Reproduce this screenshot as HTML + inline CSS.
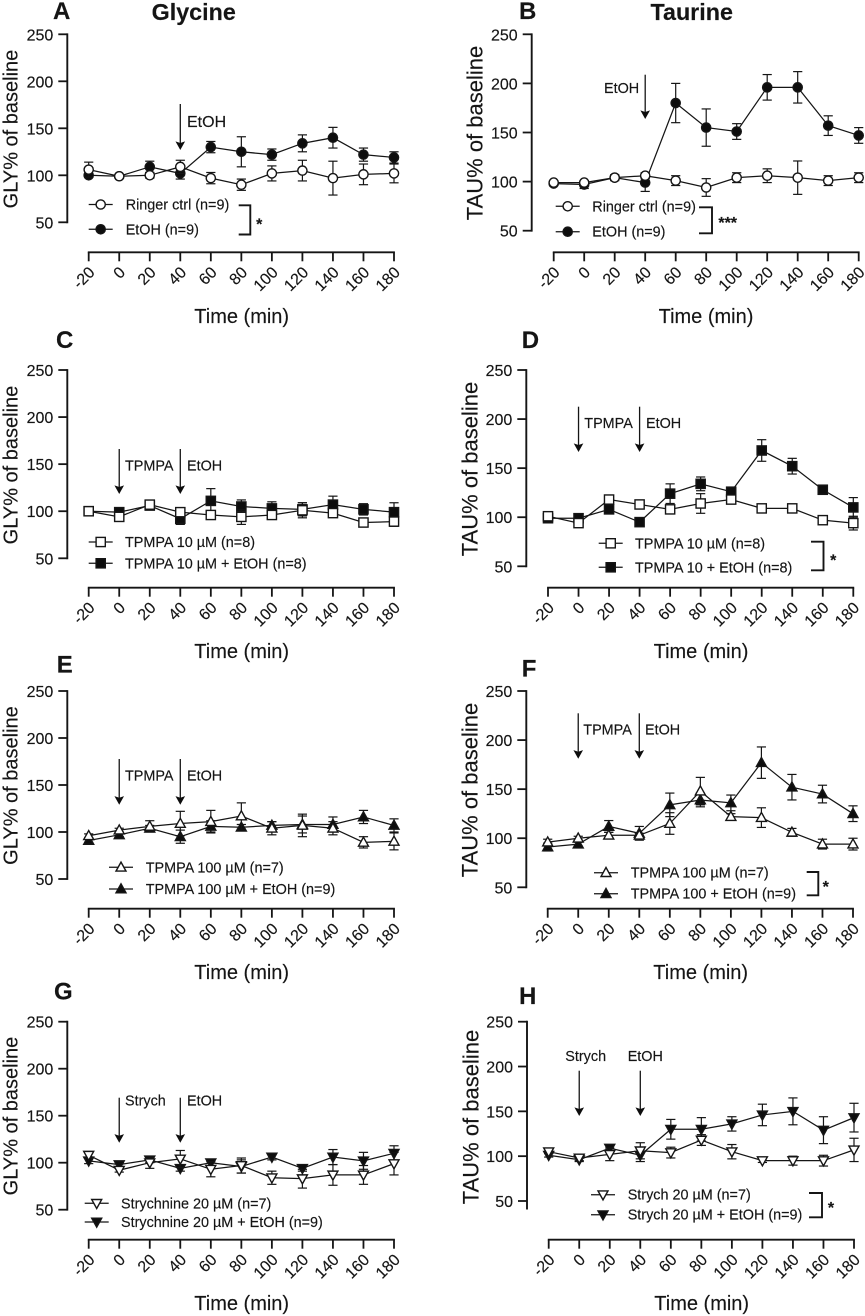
<!DOCTYPE html>
<html lang="en">
<head>
<meta charset="utf-8">
<title>Glycine and Taurine time courses</title>
<style>
html,body{margin:0;padding:0;background:#fff;}
svg{display:block;font-family:"Liberation Sans",Arial,sans-serif;fill:#151515;}
svg text{stroke:#151515;stroke-width:0.15px;}
</style>
</head>
<body>
<svg id="figure" xmlns="http://www.w3.org/2000/svg" width="865" height="1316" viewBox="0 0 865 1316"></svg>
<script>
const timePoints = [-20, 0, 20, 40, 60, 80, 100, 120, 140, 160, 180];
const xTickLabels = ["-20", "0", "20", "40", "60", "80", "100", "120", "140", "160", "180"];
const yTicks = [50, 100, 150, 200, 250];

const aCtrl = [106, 99, 100, 109, 97, 90, 102, 105, 97, 101, 102];
const aCtrlErr = [8, 2, 3, 7, 6, 6, 8, 11, 18, 11, 10];
const aEtoh = [100, 99, 109, 102, 130, 125, 122, 134, 140, 122, 119];
const aEtohErr = [1, 2, 6, 6, 6, 16, 6, 9, 11, 7, 6];

const bCtrl = [99, 99, 104, 106, 101, 94, 104, 106, 104, 101, 104];
const bCtrlErr = [2, 2, 3, 3, 5, 9, 5, 7, 17, 5, 5];
const bEtoh = [98, 97, 104, 99, 180, 155, 151, 196, 196, 157, 147];
const bEtohErr = [2, 4, 2, 9, 20, 19, 8, 13, 16, 10, 8];

const cCtrl = [100, 94, 107, 99, 96, 94, 96, 101, 98, 88, 89];
const cCtrlErr = [1, 2, 2, 3, 4, 8, 3, 8, 3, 3, 5];
const cEtoh = [100, 99, 106, 92, 111, 105, 103, 102, 107, 102, 99];
const cEtohErr = [1, 2, 2, 6, 13, 7, 7, 7, 9, 6, 10];

const dCtrl = [101, 94, 118, 113, 108, 114, 118, 109, 109, 97, 94];
const dCtrlErr = [1, 2, 3, 4, 4, 10, 3, 2, 1, 2, 7];
const dEtoh = [99, 99, 108, 95, 124, 134, 126, 168, 152, 128, 110];
const dEtohErr = [1, 2, 4, 2, 10, 7, 3, 11, 8, 4, 10];

const eCtrl = [96, 102, 106, 109, 111, 117, 104, 107, 104, 89, 90];
const eCtrlErr = [2, 2, 6, 13, 12, 14, 7, 12, 7, 6, 9];
const eEtoh = [91, 97, 104, 95, 106, 105, 107, 108, 108, 116, 107];
const eEtohErr = [2, 2, 3, 7, 6, 3, 4, 9, 8, 7, 7];

const fCtrl = [96, 100, 103, 103, 115, 148, 122, 121, 106, 94, 94];
const fCtrlErr = [3, 2, 3, 2, 11, 14, 3, 10, 4, 5, 6];
const fEtoh = [91, 94, 112, 105, 134, 139, 136, 177, 152, 145, 125];
const fEtohErr = [4, 2, 6, 7, 12, 7, 8, 16, 13, 9, 8];

const gCtrl = [108, 92, 100, 104, 93, 97, 84, 83, 87, 87, 99];
const gCtrlErr = [3, 2, 6, 9, 8, 8, 7, 10, 11, 10, 12];
const gEtoh = [102, 98, 103, 94, 100, 96, 106, 94, 106, 102, 110];
const gEtohErr = [3, 2, 3, 3, 3, 7, 3, 3, 8, 9, 8];

const hCtrl = [105, 98, 102, 106, 104, 118, 105, 95, 95, 95, 107];
const hCtrlErr = [2, 3, 7, 9, 6, 6, 8, 2, 5, 6, 13];
const hEtoh = [101, 96, 109, 101, 130, 130, 136, 146, 150, 129, 143];
const hEtohErr = [2, 2, 3, 7, 11, 13, 8, 12, 15, 15, 16];

const NS = "http://www.w3.org/2000/svg";
const root = document.getElementById("figure");

function mk(tag, parent, name, attrs) {
  const el = document.createElementNS(NS, tag);
  
  
  for (const k in attrs) el.setAttribute(k, attrs[k]);
  parent.appendChild(el);
  return el;
}
function txt(parent, name, str, attrs) {
  const el = mk("text", parent, name, attrs);
  el.textContent = str;
  return el;
}
function hline(parent, name, x1, y1, x2, y2, w) {
  return mk("line", parent, name, {x1: x1, y1: y1, x2: x2, y2: y2, stroke: "#151515", "stroke-width": w});
}
function marker(parent, name, shape, filled, cx, cy) {
  const style = {fill: filled ? "#0d0d0d" : "#fff", stroke: "#151515", "stroke-width": 1.4};
  if (shape === "circle") {
    return mk("circle", parent, name, Object.assign({cx: cx, cy: cy, r: 4.6}, style));
  }
  if (shape === "square") {
    return mk("rect", parent, name, Object.assign({x: cx - 4.6, y: cy - 4.6, width: 9.2, height: 9.2}, style));
  }
  const s = shape === "up" ? 1 : -1;
  const pts = [[cx, cy - 5.2 * s], [cx - 5, cy + 3.8 * s], [cx + 5, cy + 3.8 * s]];
  return mk("polygon", parent, name, Object.assign({points: pts.map(p => p.join(",")).join(" ")}, style));
}

function drawSeries(g, key, shape, filled, values, errors, x, y) {
  const sg = mk("g", g, key + "-series", {});
  const path = values.map((v, i) => x(timePoints[i]) + "," + y(v)).join(" ");
  mk("polyline", sg, key + "-line", {points: path, fill: "none", stroke: "#151515", "stroke-width": 1.25});
  values.forEach((v, i) => {
    const px = x(timePoints[i]);
    const top = y(v + errors[i]), bot = y(v - errors[i]);
    hline(sg, key + "-error-bar", px, top, px, bot, 1.2);
    hline(sg, key + "-error-cap", px - 4.6, top, px + 4.6, top, 1.2);
    hline(sg, key + "-error-cap", px - 4.6, bot, px + 4.6, bot, 1.2);
  });
  values.forEach((v, i) => {
    marker(sg, key + "-point", shape, filled, x(timePoints[i]), y(v));
  });
}

function drawPanel(c) {
  const g = mk("g", root, "panel-" + c.letter.toLowerCase(), {});
  const x = t => c.x0 + (t - timePoints[0]) / (timePoints[timePoints.length - 1] - timePoints[0]) * (c.x1 - c.x0);
  const y = v => c.y50 - (v - 50) / 200 * (c.y50 - c.y250);

  txt(g, "panel-letter", c.letter, {x: c.lx, y: c.ly, "font-size": 24, "font-weight": "bold"});

  // y axis
  hline(g, "y-axis-line", c.ax, y(250) - 0.9, c.ax, c.yEnd || y(50) + 0.9, 1.9);
  yTicks.forEach(v => {
    hline(g, "y-tick", c.ax - 9, y(v), c.ax, y(v), 1.8);
    txt(g, "y-tick-label", String(v), {x: c.ax - 14, y: y(v) + 6, "font-size": 16, "text-anchor": "end"});
  });
  txt(g, "y-axis-title", c.yLabel, {x: 0, y: 0, "font-size": c.ylSize, "text-anchor": "middle",
    transform: "translate(" + c.ylx + "," + c.yly + ") rotate(-90)"});

  // x axis
  hline(g, "x-axis-line", x(-20) - 0.9, c.axisY, x(180) + 0.9, c.axisY, 1.9);
  timePoints.forEach((t, i) => {
    hline(g, "x-tick", x(t), c.axisY, x(t), c.axisY + 9, 1.8);
    const px = x(t) + 7, py = c.axisY + 21;
    txt(g, "x-tick-label", xTickLabels[i], {x: 0, y: 0, "font-size": 16, "text-anchor": "end",
      transform: "translate(" + px + "," + py + ") rotate(-45)"});
  });
  txt(g, "x-axis-title", "Time (min)", {x: c.tx, y: c.axisY + 70.5, "font-size": 20, "text-anchor": "middle"});

  // series
  drawSeries(g, "etoh", c.shape, true, c.etoh, c.etohErr, x, y);
  drawSeries(g, "control", c.shape, false, c.ctrl, c.ctrlErr, x, y);

  // arrows
  c.arrows.forEach(a => {
    const ax = x(a.at);
    hline(g, "treatment-arrow-shaft", ax, a.top, ax, a.tip - 6, 1.3);
    mk("polygon", g, "treatment-arrow-head", {
      points: (ax - 4.8) + "," + (a.tip - 8.6) + " " + ax + "," + (a.tip - 7) + " " + (ax + 4.8) + "," + (a.tip - 8.6) + " " + ax + "," + a.tip,
      fill: "#0d0d0d"});
  });
  c.notes.forEach(n => {
    txt(g, "treatment-label", n.text, {x: n.x, y: n.y, "font-size": n.size || 14.4});
  });

  // legend
  const lg = mk("g", g, "legend", {});
  [[c.legendCtrl, c.leg.y1, false, "legend-entry-control"], [c.legendEtoh, c.leg.y2, true, "legend-entry-etoh"]].forEach(r => {
    const eg = mk("g", lg, r[3], {});
    hline(eg, "legend-line", c.leg.sx, r[1], c.leg.sx + 24, r[1], 1.25);
    marker(eg, "legend-marker", c.shape, r[2], c.leg.sx + 12, r[1]);
    txt(eg, "legend-label", r[0], {x: c.leg.tx, y: r[1] + 5, "font-size": 14.4});
  });

  // significance bracket
  if (c.br) {
    mk("polyline", g, "significance-bracket", {
      points: c.br.x1 + "," + c.br.y1 + " " + c.br.x2 + "," + c.br.y1 + " " + c.br.x2 + "," + c.br.y2 + " " + c.br.x1 + "," + c.br.y2,
      fill: "none", stroke: "#151515", "stroke-width": 1.9});
    txt(g, "significance-stars", c.br.stars, {x: c.br.sx, y: c.br.sy + 8, "font-size": 16, "font-weight": "bold", "text-anchor": "middle"});
  }
}

txt(root, "column-title-glycine", "Glycine", {x: 193.7, y: 20, "font-size": 23.3, "font-weight": "bold", "text-anchor": "middle"});
txt(root, "column-title-taurine", "Taurine", {x: 691.7, y: 20, "font-size": 23.3, "font-weight": "bold", "text-anchor": "middle"});

drawPanel({letter: "A", lx: 53, ly: 19, x0: 88.7, x1: 394, ax: 67.3, y250: 34.3, y50: 222.3, axisY: 252.3,
  yLabel: "GLY% of baseline", ylSize: 20, ylx: 17.5, yly: 129, tx: 241.7, shape: "circle",
  ctrl: aCtrl, ctrlErr: aCtrlErr, etoh: aEtoh, etohErr: aEtohErr,
  arrows: [{at: 40, top: 104, tip: 150}], notes: [{text: "EtOH", x: 187, y: 127, size: 16}],
  legendCtrl: "Ringer ctrl (n=9)", legendEtoh: "EtOH (n=9)", leg: {sx: 88.7, y1: 204.5, y2: 229.3, tx: 125.7},
  br: {x1: 238.7, x2: 250.3, y1: 205.3, y2: 234.5, stars: "*", sx: 259.3, sy: 221.7}});

drawPanel({letter: "B", lx: 519, ly: 19, x0: 553.7, x1: 858.7, ax: 531.7, y250: 34.3, y50: 230.7, axisY: 252.3,
  yLabel: "TAU% of baseline", ylSize: 22, ylx: 482.7, yly: 133, tx: 706, shape: "circle",
  ctrl: bCtrl, ctrlErr: bCtrlErr, etoh: bEtoh, etohErr: bEtohErr,
  arrows: [{at: 40, top: 74.7, tip: 119}], notes: [{text: "EtOH", x: 604, y: 93}],
  legendCtrl: "Ringer ctrl (n=9)", legendEtoh: "EtOH (n=9)", leg: {sx: 555.7, y1: 206.3, y2: 231.7, tx: 592.3},
  br: {x1: 699, x2: 712, y1: 207.3, y2: 233.3, stars: "***", sx: 727.7, sy: 220}});

drawPanel({letter: "C", lx: 56, ly: 348, x0: 88.7, x1: 394, ax: 67.3, y250: 370, y50: 558.3, axisY: 587.7,
  yLabel: "GLY% of baseline", ylSize: 20, ylx: 17.5, yly: 465, tx: 241.7, shape: "square",
  ctrl: cCtrl, ctrlErr: cCtrlErr, etoh: cEtoh, etohErr: cEtohErr,
  arrows: [{at: 0, top: 449, tip: 494}, {at: 40, top: 449, tip: 494}],
  notes: [{text: "TPMPA", x: 125, y: 470.7}, {text: "EtOH", x: 187, y: 470.7}],
  legendCtrl: "TPMPA 10 µM (n=8)", legendEtoh: "TPMPA 10 µM + EtOH (n=8)", leg: {sx: 88.7, y1: 542, y2: 563.3, tx: 125}});

drawPanel({letter: "D", lx: 521.7, ly: 348, x0: 548, x1: 853.3, ax: 526.3, y250: 370, y50: 566.3, axisY: 587.7,
  yLabel: "TAU% of baseline", ylSize: 22, ylx: 477.7, yly: 469, tx: 701, shape: "square",
  ctrl: dCtrl, ctrlErr: dCtrlErr, etoh: dEtoh, etohErr: dEtohErr,
  arrows: [{at: 0, top: 406.7, tip: 452}, {at: 40, top: 406.7, tip: 452}],
  notes: [{text: "TPMPA", x: 584.3, y: 428}, {text: "EtOH", x: 646, y: 428}],
  legendCtrl: "TPMPA 10 µM (n=8)", legendEtoh: "TPMPA 10 + EtOH (n=8)", leg: {sx: 598.7, y1: 543.3, y2: 567.3, tx: 635},
  br: {x1: 811, x2: 823.5, y1: 541.7, y2: 570.3, stars: "*", sx: 833.3, sy: 557.3}});

drawPanel({letter: "E", lx: 56.7, ly: 672.7, x0: 88.7, x1: 394, ax: 67.3, y250: 691, y50: 879, axisY: 908.7,
  yLabel: "GLY% of baseline", ylSize: 20, ylx: 17.5, yly: 785.5, tx: 241.7, shape: "up",
  ctrl: eCtrl, ctrlErr: eCtrlErr, etoh: eEtoh, etohErr: eEtohErr,
  arrows: [{at: 0, top: 759, tip: 804.7}, {at: 40, top: 759, tip: 804.7}],
  notes: [{text: "TPMPA", x: 125, y: 780.7}, {text: "EtOH", x: 187, y: 780.7}],
  legendCtrl: "TPMPA 100 µM (n=7)", legendEtoh: "TPMPA 100 µM + EtOH (n=9)", leg: {sx: 109, y1: 867.3, y2: 889, tx: 145.7}});

drawPanel({letter: "F", lx: 521.7, ly: 676.7, x0: 547.7, x1: 853, ax: 526.3, y250: 691, y50: 887.3, axisY: 908.7,
  yLabel: "TAU% of baseline", ylSize: 22, ylx: 477.7, yly: 790, tx: 700.7, shape: "up",
  ctrl: fCtrl, ctrlErr: fCtrlErr, etoh: fEtoh, etohErr: fEtohErr,
  arrows: [{at: 0, top: 713.3, tip: 758.7}, {at: 40, top: 713.3, tip: 758.7}],
  notes: [{text: "TPMPA", x: 583.3, y: 734.7}, {text: "EtOH", x: 645, y: 734.7}],
  legendCtrl: "TPMPA 100 µM (n=7)", legendEtoh: "TPMPA 100 + EtOH (n=9)", leg: {sx: 594, y1: 872.7, y2: 893.7, tx: 630.7},
  br: {x1: 806.7, x2: 818.3, y1: 872, y2: 895.3, stars: "*", sx: 825.7, sy: 884}});

drawPanel({letter: "G", lx: 54, ly: 999.3, x0: 88.7, x1: 394, ax: 67.3, y250: 1021.7, y50: 1209.7, axisY: 1239.7,
  yLabel: "GLY% of baseline", ylSize: 20, ylx: 17.5, yly: 1116, tx: 241.7, shape: "down",
  ctrl: gCtrl, ctrlErr: gCtrlErr, etoh: gEtoh, etohErr: gEtohErr,
  arrows: [{at: 0, top: 1097.7, tip: 1142.7}, {at: 40, top: 1097.7, tip: 1142.7}],
  notes: [{text: "Strych", x: 125, y: 1105.3}, {text: "EtOH", x: 187, y: 1105.3}],
  legendCtrl: "Strychnine 20 µM (n=7)", legendEtoh: "Strychnine 20 µM + EtOH (n=9)", leg: {sx: 84.7, y1: 1203.3, y2: 1222, tx: 121}});

drawPanel({letter: "H", lx: 519, ly: 1004, x0: 548.7, x1: 854, ax: 527, y250: 1021.7, y50: 1201, yEnd: 1209.5, axisY: 1239.7,
  yLabel: "TAU% of baseline", ylSize: 22, ylx: 478.3, yly: 1117, tx: 701.7, shape: "down",
  ctrl: hCtrl, ctrlErr: hCtrlErr, etoh: hEtoh, etohErr: hEtohErr,
  arrows: [{at: 0, top: 1070.7, tip: 1116}, {at: 40, top: 1070.7, tip: 1116}],
  notes: [{text: "Strych", x: 565.3, y: 1061}, {text: "EtOH", x: 627.7, y: 1061}],
  legendCtrl: "Strych 20 µM (n=7)", legendEtoh: "Strych 20 µM + EtOH (n=9)", leg: {sx: 591, y1: 1194.7, y2: 1214.7, tx: 627.7},
  br: {x1: 809, x2: 822, y1: 1193, y2: 1217.3, stars: "*", sx: 831, sy: 1205}});
</script>
</body>
</html>
